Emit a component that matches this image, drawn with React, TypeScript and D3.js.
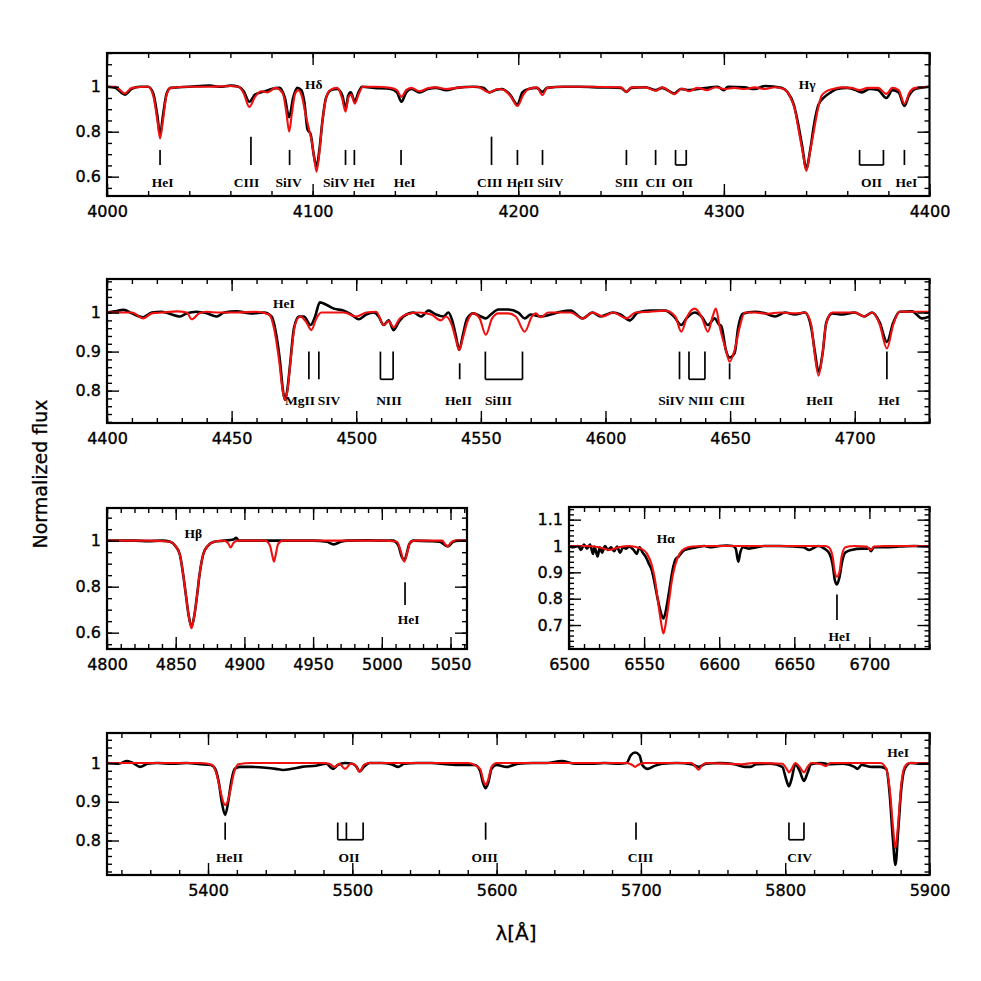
import React, { useEffect, useRef } from 'react';
import * as d3 from 'd3';

type Pt = [number, number];

// ---------- Panel 1 : 4000-4400 ----------
const P1_OBS: Pt[] = [
  [4000, 1.0], [4004, 0.995], [4008.7, 0.965], [4012, 0.99], [4016, 1.0], [4020, 1.0], [4022.5, 0.97], [4024.5, 0.87],
  [4025.8, 0.785], [4027.2, 0.87], [4029, 0.97], [4031, 0.995], [4040, 1.0], [4050, 1.005], [4055, 1.0], [4060, 1.005],
  [4064, 1.0], [4066.5, 0.98], [4069.2, 0.933], [4072, 0.965], [4075, 0.975], [4077, 0.98], [4080, 0.99], [4084, 0.995],
  [4086.5, 0.95], [4088.6, 0.864], [4090.5, 0.95], [4092.5, 0.995], [4094.5, 0.985], [4096, 0.93], [4097.5, 0.81],
  [4099, 0.79], [4100.5, 0.7], [4101.9, 0.644], [4103.3, 0.72], [4104.8, 0.85], [4106.5, 0.95], [4109, 0.985],
  [4112, 0.99], [4114.5, 0.96], [4116, 0.9], [4117.3, 0.96], [4118.5, 0.975], [4120.5, 0.935], [4122.3, 0.975],
  [4124, 1.0], [4130, 0.995], [4138, 0.99], [4141, 0.975], [4143.2, 0.933], [4145.5, 0.975], [4148, 0.99], [4152, 0.975],
  [4156, 0.99], [4160, 0.995], [4165, 0.985], [4170, 0.995], [4178, 1.0], [4183, 0.995], [4186, 0.975], [4189, 0.985],
  [4192, 0.99], [4196, 0.965], [4199.6, 0.92], [4202, 0.975], [4205, 0.99], [4209, 0.995], [4211.8, 0.977], [4214, 0.995],
  [4222, 1.0], [4230, 1.0], [4240, 0.997], [4250, 0.995], [4252.6, 0.977], [4255, 0.995], [4262, 0.998], [4266.8, 0.985],
  [4270, 0.995], [4276, 0.97], [4279, 0.99], [4283, 0.985], [4290, 0.993], [4297, 1.0], [4300, 0.985], [4302, 1.0],
  [4310, 0.997], [4315, 0.99], [4320, 1.003], [4328, 0.995], [4331, 0.975], [4334, 0.92], [4336, 0.84], [4338, 0.74],
  [4340.1, 0.636], [4342, 0.72], [4344, 0.84], [4346, 0.92], [4349, 0.955], [4352, 0.975], [4355, 0.99], [4360, 0.995],
  [4364, 0.985], [4367, 0.975], [4371, 0.99], [4375, 0.985], [4379, 0.95], [4382, 0.985], [4385, 0.975], [4387.8, 0.914],
  [4390, 0.96], [4393, 0.99], [4400, 1.0],
];
const P1_MOD: Pt[] = [
  [4000, 1.0], [4004, 1.0], [4008.7, 0.97], [4012, 0.995], [4020, 1.0], [4022.5, 0.96], [4024.5, 0.85], [4025.8, 0.77],
  [4027.2, 0.85], [4029, 0.965], [4031, 0.995], [4040, 1.0], [4050, 1.0], [4060, 1.003], [4064, 1.0], [4066.5, 0.97],
  [4069.2, 0.91], [4072, 0.955], [4075, 0.98], [4078, 0.975], [4082, 0.995], [4085.5, 0.97], [4087.3, 0.88], [4088.6, 0.8],
  [4089.9, 0.88], [4091.5, 0.97], [4093, 0.985], [4095, 0.95], [4096.5, 0.88], [4098, 0.82], [4099.5, 0.76], [4100.8, 0.68],
  [4101.9, 0.622], [4103.2, 0.7], [4104.7, 0.84], [4106.3, 0.94], [4108.5, 0.985], [4112, 0.995], [4114.3, 0.95],
  [4116, 0.889], [4117.5, 0.955], [4118.7, 0.965], [4120.5, 0.925], [4122.5, 0.97], [4124.5, 1.0], [4130, 1.0],
  [4138, 0.995], [4141, 0.985], [4143.2, 0.955], [4145.5, 0.985], [4148, 0.995], [4152, 0.98], [4156, 0.993],
  [4160, 0.997], [4165, 0.99], [4172, 0.997], [4180, 1.0], [4186, 0.975], [4190, 0.99], [4193, 0.985], [4196.5, 0.955],
  [4199.6, 0.914], [4202.5, 0.965], [4205, 0.99], [4209, 0.997], [4211.8, 0.963], [4214, 0.995], [4222, 1.0], [4235, 1.0],
  [4250, 0.997], [4252.6, 0.977], [4255, 0.997], [4262, 0.997], [4266.8, 0.982], [4270, 0.997], [4276, 0.967],
  [4279.5, 0.992], [4283, 0.98], [4287, 0.995], [4292, 0.985], [4296, 0.998], [4300, 0.99], [4305, 0.995], [4310, 0.99],
  [4315, 0.997], [4320, 0.99], [4325, 0.998], [4329, 0.99], [4332, 0.96], [4334.5, 0.9], [4336.5, 0.8], [4338.5, 0.7],
  [4340.1, 0.625], [4341.7, 0.7], [4343.7, 0.8], [4345.7, 0.9], [4347.5, 0.96], [4350, 0.98], [4353, 0.99], [4357, 0.997],
  [4362, 0.995], [4366, 0.985], [4370, 0.995], [4375, 0.995], [4379, 0.968], [4382, 0.995], [4385, 0.985],
  [4387.8, 0.924], [4390.3, 0.975], [4393, 0.995], [4400, 1.0],
];

// ---------- Panel 2 : 4400-4730 ----------
const P2_OBS: Pt[] = [
  [4400, 1.0], [4403, 1.003], [4406.7, 1.007], [4410, 0.998], [4414.5, 0.988], [4418, 1.0], [4422, 1.002], [4426, 0.995],
  [4429, 0.99], [4432, 0.998], [4436, 1.002], [4440, 0.998], [4444, 0.99], [4447, 1.0], [4452, 1.003], [4458, 0.998],
  [4463, 1.0], [4466, 0.99], [4468, 0.94], [4469.5, 0.87], [4470.6, 0.8], [4471.4, 0.776], [4472.3, 0.8], [4473.5, 0.87],
  [4475, 0.96], [4477, 0.99], [4479, 0.99], [4481.7, 0.968], [4483.5, 0.99], [4485.4, 1.026], [4488, 1.02], [4491, 1.01],
  [4495, 1.005], [4498, 0.995], [4501, 0.983], [4504, 0.995], [4507, 1.0], [4509, 0.99], [4511, 0.968], [4513, 0.98],
  [4515, 0.955], [4517, 0.975], [4519, 0.99], [4523, 1.0], [4526, 0.99], [4529, 1.005], [4532, 0.995], [4535, 0.99],
  [4537, 1.0], [4538.5, 0.98], [4540, 0.94], [4541.3, 0.904], [4542.7, 0.94], [4544.5, 0.985], [4547, 0.998],
  [4550, 0.99], [4552, 0.985], [4554, 0.995], [4557, 1.008], [4561, 1.008], [4565, 1.0], [4567.6, 0.985], [4570, 0.995],
  [4574, 0.99], [4578, 0.995], [4582, 1.002], [4586, 1.005], [4590.8, 0.985], [4594.8, 1.0], [4598, 0.99], [4603, 1.0],
  [4606, 0.995], [4609.7, 0.98], [4613, 1.0], [4618, 1.005], [4624, 1.005], [4627.5, 0.99], [4630.4, 0.968],
  [4632.5, 0.985], [4635.8, 1.0], [4638.5, 0.99], [4641.1, 0.968], [4643.8, 0.985], [4645.5, 0.97], [4646.5, 0.965],
  [4648.3, 0.904], [4649.8, 0.885], [4651.8, 0.896], [4653.2, 0.96], [4655, 0.997], [4660, 1.002], [4664, 0.998],
  [4668, 0.99], [4672, 1.0], [4676, 0.995], [4680, 1.0], [4682.6, 0.96], [4684, 0.9], [4685.5, 0.849], [4687.2, 0.9],
  [4688.6, 0.975], [4691, 0.998], [4695, 0.995], [4700, 1.0], [4703.8, 0.99], [4707, 1.0], [4710, 0.975],
  [4712.9, 0.925], [4715.5, 0.975], [4718, 1.002], [4723, 1.003], [4727, 0.985], [4730, 0.99],
];
const P2_MOD: Pt[] = [
  [4400, 1.0], [4405, 1.0], [4410, 1.0], [4414.5, 0.985], [4418, 0.998], [4422, 1.0], [4428, 1.003], [4432, 1.0],
  [4434, 0.983], [4437, 0.998], [4440, 1.002], [4445, 1.0], [4452, 1.0], [4460, 1.002], [4465, 0.995], [4467, 0.96],
  [4469, 0.88], [4470.5, 0.8], [4471.4, 0.776], [4472.4, 0.8], [4473.7, 0.88], [4475.5, 0.97], [4477.5, 0.99],
  [4480, 0.975], [4482, 0.955], [4484, 0.985], [4486, 1.0], [4490, 1.0], [4495, 1.0], [4500, 0.99], [4504, 1.0],
  [4508, 1.002], [4511, 0.968], [4513, 0.978], [4515, 0.962], [4517.5, 0.985], [4520, 0.995], [4525, 1.0], [4530, 0.995],
  [4534, 0.98], [4536, 0.99], [4538.5, 0.965], [4540, 0.93], [4541.3, 0.904], [4542.8, 0.935], [4544.5, 0.975],
  [4547, 0.998], [4549.5, 0.985], [4552, 0.943], [4554.5, 0.985], [4557, 0.998], [4561, 0.998], [4564, 0.99],
  [4567.6, 0.951], [4570.5, 0.99], [4572, 0.998], [4574, 0.988], [4577, 1.0], [4582, 1.0], [4586, 1.0], [4590.8, 0.985],
  [4594.8, 1.0], [4599, 0.99], [4603, 1.0], [4608.4, 0.985], [4612, 1.0], [4618, 1.002], [4624, 1.005], [4628, 0.99],
  [4630.4, 0.951], [4632.8, 0.99], [4635.8, 1.01], [4638.5, 0.99], [4641.1, 0.951], [4643, 0.99], [4644.3, 1.01],
  [4645.8, 0.964], [4648.3, 0.904], [4649.8, 0.874], [4651.8, 0.904], [4653.9, 0.964], [4655.9, 1.0], [4660, 1.0],
  [4665, 0.997], [4670, 1.0], [4676, 0.998], [4680, 1.0], [4682.5, 0.97], [4684, 0.89], [4685.5, 0.838], [4687, 0.89],
  [4688.5, 0.97], [4691, 1.0], [4696, 1.0], [4700, 1.0], [4703.8, 0.99], [4707, 1.0], [4710, 0.97], [4712.9, 0.908],
  [4715.5, 0.97], [4718, 1.002], [4730, 1.002],
];

// ---------- Panel 3 : 4800-5060 ----------
const P3_OBS: Pt[] = [
  [4800, 1.0], [4820, 1.0], [4830, 0.998], [4840, 1.0], [4846, 0.995], [4850, 0.975], [4853, 0.94], [4855.5, 0.85],
  [4857.5, 0.76], [4859.3, 0.68], [4861.5, 0.625], [4863.7, 0.68], [4865.5, 0.76], [4867.3, 0.85], [4870, 0.94],
  [4873, 0.975], [4878, 0.995], [4885, 1.0], [4892, 1.005], [4894, 1.012], [4896, 1.0], [4905, 1.0], [4915, 1.0],
  [4930, 1.0], [4950, 1.0], [4960, 0.995], [4965, 0.984], [4970, 0.995], [4975, 1.0], [4990, 1.002], [5000, 1.0],
  [5008, 1.0], [5012, 0.98], [5014.5, 0.93], [5016.4, 0.915], [5018, 0.94], [5020, 0.985], [5023, 1.0], [5035, 0.998],
  [5042, 0.995], [5048, 0.975], [5052, 0.995], [5056, 1.0], [5062, 1.0],
];
const P3_MOD: Pt[] = [
  [4800, 1.0], [4830, 1.0], [4846, 0.995], [4850, 0.975], [4853, 0.94], [4855.5, 0.85], [4857.5, 0.76], [4859.3, 0.68],
  [4861.5, 0.619], [4863.7, 0.68], [4865.5, 0.76], [4867.3, 0.85], [4870, 0.94], [4873, 0.975], [4878, 0.995],
  [4885, 1.0], [4888, 0.99], [4890, 0.97], [4892, 0.99], [4895, 1.0], [4915, 1.0], [4918.5, 0.98], [4920.5, 0.93],
  [4921.5, 0.909], [4922.5, 0.93], [4924.5, 0.985], [4928, 1.0], [4960, 1.0], [5000, 1.0], [5011, 0.995],
  [5013.5, 0.96], [5016.4, 0.909], [5018.5, 0.95], [5021, 0.995], [5025, 1.0], [5044, 1.0], [5046, 0.985],
  [5048, 0.975], [5050, 0.99], [5053, 1.0], [5062, 1.0],
];

// ---------- Panel 4 : 6500-6740 ----------
const P4_OBS: Pt[] = [
  [6500, 1.0], [6503, 0.995], [6506, 1.0], [6508, 0.985], [6510, 1.005], [6512, 0.99], [6514, 1.005], [6516, 0.97],
  [6517, 0.998], [6519, 0.96], [6520.5, 0.995], [6522, 0.975], [6524, 1.0], [6526, 0.985], [6528, 0.995], [6530, 0.98],
  [6532, 0.998], [6534, 0.975], [6536, 0.995], [6538, 0.99], [6540, 0.998], [6543, 0.985], [6545, 0.97], [6547, 0.995],
  [6549, 0.975], [6551, 0.96], [6553, 0.935], [6555, 0.91], [6557, 0.86], [6559, 0.8], [6561, 0.75], [6562.9, 0.725],
  [6565, 0.77], [6567, 0.84], [6569, 0.91], [6571, 0.95], [6573, 0.96], [6575, 0.975], [6577, 0.985], [6580, 0.99],
  [6585, 0.995], [6590, 1.0], [6595, 0.995], [6600, 1.0], [6605, 1.002], [6609, 1.0], [6611, 0.99], [6612.7, 0.94],
  [6614, 0.975], [6616, 0.995], [6620, 0.99], [6625, 0.995], [6630, 1.0], [6640, 1.0], [6650, 0.998], [6656, 0.995],
  [6660, 0.985], [6662, 0.99], [6666, 1.0], [6670, 0.99], [6673, 0.975], [6675.5, 0.93], [6677, 0.87], [6678.4, 0.854],
  [6680, 0.88], [6682, 0.945], [6684, 0.975], [6688, 0.985], [6695, 0.99], [6700, 0.99], [6701, 0.98], [6703, 0.995],
  [6710, 0.995], [6720, 0.998], [6730, 1.0], [6740, 0.998],
];
const P4_MOD: Pt[] = [
  [6500, 1.0], [6510, 1.0], [6520, 0.995], [6527, 0.985], [6533, 0.995], [6540, 1.0], [6548, 0.99], [6552, 0.97],
  [6555, 0.93], [6557, 0.88], [6559, 0.8], [6561, 0.72], [6562.9, 0.668], [6564.8, 0.72], [6566.8, 0.8], [6568.8, 0.88],
  [6570.8, 0.93], [6573.5, 0.97], [6577, 0.99], [6582, 0.998], [6590, 1.0], [6620, 1.0], [6650, 1.0], [6670, 1.0],
  [6673, 0.995], [6675.5, 0.96], [6677, 0.9], [6678.4, 0.883], [6680, 0.9], [6681.5, 0.96], [6684, 0.995], [6690, 1.0],
  [6698, 0.998], [6700.9, 0.985], [6703, 0.998], [6710, 1.0], [6740, 1.0],
];

// ---------- Panel 5 : 5330-5900 ----------
const P5_OBS: Pt[] = [
  [5330, 1.0], [5338, 0.998], [5344, 1.005], [5348, 1.0], [5353, 0.99], [5358, 0.998], [5365, 1.0], [5375, 0.998],
  [5385, 1.0], [5395, 0.997], [5402, 0.995], [5405, 0.985], [5407.5, 0.95], [5409.5, 0.9], [5411.9, 0.866], [5414, 0.9],
  [5416, 0.95], [5418.5, 0.985], [5422, 0.99], [5430, 0.99], [5440, 0.988], [5447, 0.985], [5452, 0.982], [5458, 0.985],
  [5465, 0.99], [5475, 0.993], [5482, 0.998], [5486.6, 0.985], [5490, 0.995], [5495, 1.0], [5500, 0.998], [5503, 0.99],
  [5505, 0.978], [5508, 0.99], [5512, 1.0], [5520, 1.0], [5527, 0.997], [5532, 0.99], [5536, 0.998], [5545, 1.0],
  [5555, 1.0], [5565, 0.997], [5575, 0.995], [5585, 0.995], [5588.5, 0.98], [5590.5, 0.95], [5592.4, 0.935],
  [5594.3, 0.95], [5596.5, 0.985], [5600, 0.995], [5607, 0.99], [5615, 0.998], [5625, 1.0], [5635, 1.0], [5645, 1.005],
  [5655, 0.998], [5665, 0.998], [5675, 1.0], [5685, 0.998], [5690, 1.0], [5693, 1.02], [5696, 1.027], [5699, 1.02],
  [5701, 0.995], [5704.7, 0.985], [5709, 0.992], [5715, 0.998], [5725, 1.0], [5735, 0.997], [5740, 0.99], [5745, 0.998],
  [5755, 1.0], [5765, 0.997], [5772, 0.99], [5776, 0.99], [5780, 0.997], [5790, 0.998], [5798, 0.99], [5800.5, 0.96],
  [5802.6, 0.94], [5804.5, 0.96], [5807, 0.997], [5810, 0.98], [5813, 0.954], [5815.5, 0.975], [5818, 0.997],
  [5825, 1.0], [5830, 0.997], [5840, 0.998], [5848, 0.99], [5850, 0.985], [5853, 0.995], [5860, 0.99], [5866, 0.99],
  [5870, 0.985], [5872.4, 0.92], [5874.5, 0.81], [5876.4, 0.737], [5878.2, 0.82], [5880.5, 0.935], [5882.8, 0.985],
  [5887, 1.0], [5895, 0.998], [5900, 0.998],
];
const P5_MOD: Pt[] = [
  [5330, 1.0], [5360, 1.0], [5395, 1.0], [5403, 0.995], [5406, 0.97], [5408.5, 0.93], [5410.5, 0.9], [5411.9, 0.892],
  [5413.5, 0.9], [5415.5, 0.93], [5418, 0.975], [5421, 0.997], [5430, 1.0], [5480, 1.0], [5484, 0.998], [5488, 0.99],
  [5491, 0.998], [5495, 0.985], [5499, 0.998], [5502, 0.995], [5505, 0.978], [5508, 0.995], [5512, 1.0], [5540, 1.0],
  [5580, 1.0], [5588.5, 0.985], [5590.8, 0.955], [5592.4, 0.944], [5594, 0.955], [5596.5, 0.99], [5600, 1.0],
  [5690, 1.0], [5694, 0.995], [5696, 0.99], [5698, 0.995], [5702, 1.0], [5735, 1.0], [5738, 0.99], [5740, 0.983],
  [5742.5, 0.995], [5746, 1.0], [5770, 0.997], [5778, 1.0], [5798, 0.998], [5801, 0.985], [5802.6, 0.976],
  [5804.5, 0.985], [5807, 1.0], [5810, 0.99], [5813, 0.976], [5815.5, 0.99], [5818, 1.0], [5825, 0.997], [5828, 0.992],
  [5831, 1.0], [5866, 1.0], [5870, 0.985], [5872.5, 0.93], [5874.6, 0.84], [5876.4, 0.78], [5878.2, 0.84],
  [5880.3, 0.94], [5882.8, 0.99], [5886, 1.0], [5900, 1.0],
];

// ---------- line identifications ----------
type Marker = { label: string; lines: number[]; at: number; kind?: 'long' | 'short' };
const P1_MARKERS: Marker[] = [
  { label: 'HeI', lines: [4025.8], at: 4027 },
  { label: 'CIII', lines: [4070], at: 4067.9, kind: 'long' },
  { label: 'SiIV', lines: [4088.8], at: 4088.3 },
  { label: 'SiIV', lines: [4116], at: 4111.4 },
  { label: 'HeI', lines: [4120.3], at: 4125.1 },
  { label: 'HeI', lines: [4143], at: 4144.8 },
  { label: 'CIII', lines: [4187], at: 4186.1, kind: 'long' },
  { label: 'HeII', lines: [4199.6], at: 4201 },
  { label: 'SiIV', lines: [4211.8], at: 4215.6 },
  { label: 'SIII', lines: [4252.6], at: 4252.7 },
  { label: 'CII', lines: [4266.8], at: 4266.8 },
  { label: 'OII', lines: [4276.5, 4281.7], at: 4279.9 },
  { label: 'OII', lines: [4366, 4377.6], at: 4371.8 },
  { label: 'HeI', lines: [4387.8], at: 4388.8 },
];
const P2_MARKERS: Marker[] = [
  { label: 'MgII', lines: [4481], at: 4477.4 },
  { label: 'SIV', lines: [4485], at: 4489.1 },
  { label: 'NIII', lines: [4509.7, 4514.8], at: 4513.1 },
  { label: 'HeII', lines: [4541.5], at: 4541, kind: 'short' },
  { label: 'SiIII', lines: [4551.8, 4566.7], at: 4557.1 },
  { label: 'SiIV', lines: [4629.7], at: 4626.4 },
  { label: 'NIII', lines: [4633.5, 4639.9], at: 4638.3 },
  { label: 'CIII', lines: [4649.8], at: 4650.9, kind: 'short' },
  { label: 'HeII', lines: [], at: 4686 },
  { label: 'HeI', lines: [4712.9], at: 4713.8 },
];
const P3_MARKERS: Marker[] = [{ label: 'HeI', lines: [5016.9], at: 5019.6 }];
const P4_MARKERS: Marker[] = [{ label: 'HeI', lines: [6678.4], at: 6680 }];
const P5_MARKERS: Marker[] = [
  { label: 'HeII', lines: [5411.9], at: 5414.9 },
  { label: 'OII', lines: [5489.9, 5495.9, 5507.5], at: 5497.8 },
  { label: 'OIII', lines: [5592.4], at: 5591.7 },
  { label: 'CIII', lines: [5696.6], at: 5699.8 },
  { label: 'CIV', lines: [5802.6, 5813], at: 5810 },
];

type TopLabel = { text: string; at: number; flux: number };
const P1_TOP: TopLabel[] = [{ text: 'Hδ', at: 4100.5, flux: 1.01 }, { text: 'Hγ', at: 4340.5, flux: 1.014 }];
const P2_TOP: TopLabel[] = [{ text: 'HeI', at: 4471, flux: 1.024 }];
const P3_TOP: TopLabel[] = [{ text: 'Hβ', at: 4862.8, flux: 1.033 }];
const P4_TOP: TopLabel[] = [{ text: 'Hα', at: 6564.4, flux: 1.032 }];
const P5_TOP: TopLabel[] = [{ text: 'HeI', at: 5878.3, flux: 1.028 }];

const P1_XMAJOR = [4000, 4100, 4200, 4300, 4400];
const P2_XMAJOR = [4400, 4450, 4500, 4550, 4600, 4650, 4700];
const P3_XMAJOR = [4800, 4850, 4900, 4950, 5000, 5050];
const P4_XMAJOR = [6500, 6550, 6600, 6650, 6700];
const P5_XMAJOR = [5400, 5500, 5600, 5700, 5800, 5900];
const P1_YMAJOR = [0.6, 0.8, 1];
const P2_YMAJOR = [0.8, 0.9, 1];
const P3_YMAJOR = [0.6, 0.8, 1];
const P4_YMAJOR = [0.7, 0.8, 0.9, 1, 1.1];
const P5_YMAJOR = [0.8, 0.9, 1];

type Panel = {
  obs: Pt[]; mod: Pt[]; markers: Marker[]; top: TopLabel[];
  xd: [number, number]; yd: [number, number];
  box: [number, number, number, number];
  xMajor: number[]; xMinorStep: number; yMajor: number[]; yMinorStep: number;
  tickTop: number; tickBot: number; longTop: number; labelF: number;
};

const PANELS: Panel[] = [
  { obs: P1_OBS, mod: P1_MOD, markers: P1_MARKERS, top: P1_TOP, xd: [4000, 4400], yd: [0.514, 1.15],
    box: [107, 53, 929.5, 196], xMajor: P1_XMAJOR, xMinorStep: 20, yMajor: P1_YMAJOR, yMinorStep: 0.05,
    tickTop: 0.719, tickBot: 0.652, longTop: 0.778, labelF: 0.578 },
  { obs: P2_OBS, mod: P2_MOD, markers: P2_MARKERS, top: P2_TOP, xd: [4400, 4730], yd: [0.717, 1.086],
    box: [107, 279, 929.5, 423], xMajor: P2_XMAJOR, xMinorStep: 10, yMajor: P2_YMAJOR, yMinorStep: 0.02,
    tickTop: 0.9, tickBot: 0.829, longTop: 0.87, labelF: 0.777 },
  { obs: P3_OBS, mod: P3_MOD, markers: P3_MARKERS, top: P3_TOP, xd: [4800, 5062], yd: [0.529, 1.142],
    box: [107, 508, 467, 649], xMajor: P3_XMAJOR, xMinorStep: 10, yMajor: P3_YMAJOR, yMinorStep: 0.05,
    tickTop: 0.819, tickBot: 0.72, longTop: 0.819, labelF: 0.66 },
  { obs: P4_OBS, mod: P4_MOD, markers: P4_MARKERS, top: P4_TOP, xd: [6500, 6740], yd: [0.609, 1.148],
    box: [569, 507, 929.5, 649], xMajor: P4_XMAJOR, xMinorStep: 10, yMajor: P4_YMAJOR, yMinorStep: 0.02,
    tickTop: 0.816, tickBot: 0.719, longTop: 0.816, labelF: 0.658 },
  { obs: P5_OBS, mod: P5_MOD, markers: P5_MARKERS, top: P5_TOP, xd: [5330, 5900], yd: [0.711, 1.0775],
    box: [107, 733, 929.5, 875], xMajor: P5_XMAJOR, xMinorStep: 20, yMajor: P5_YMAJOR, yMinorStep: 0.02,
    tickTop: 0.8465, tickBot: 0.802, longTop: 0.8465, labelF: 0.757 },
];

const TICK_FONT = "'DejaVu Sans', sans-serif";
const ID_FONT = "'Liberation Serif', 'DejaVu Serif', serif";

function minorTicks(d: [number, number], step: number): number[] {
  const out: number[] = [];
  const start = Math.ceil(d[0] / step - 1e-9);
  const end = Math.floor(d[1] / step + 1e-9);
  for (let k = start; k <= end; k++) out.push(+(k * step).toFixed(4));
  return out;
}

function drawPanel(svg: d3.Selection<SVGSVGElement, unknown, null, undefined>, p: Panel, i: number) {
  const [x0, y0, x1, y1] = p.box;
  const x = d3.scaleLinear().domain(p.xd).range([x0, x1]);
  const y = d3.scaleLinear().domain(p.yd).range([y1, y0]);
  const g = svg.append('g');
  const clipId = `clip-${i}`;
  g.append('clipPath').attr('id', clipId).append('rect')
    .attr('x', x0).attr('y', y0).attr('width', x1 - x0).attr('height', y1 - y0);

  const line = d3.line<Pt>().x(d => x(d[0])).y(d => y(d[1])).curve(d3.curveMonotoneX);
  g.append('path').attr('d', line(p.obs) as string).attr('fill', 'none').attr('stroke', '#000')
    .attr('stroke-width', 2.6).attr('stroke-linejoin', 'round').attr('clip-path', `url(#${clipId})`);
  g.append('path').attr('d', line(p.mod) as string).attr('fill', 'none').attr('stroke', '#f01010')
    .attr('stroke-width', 2.1).attr('stroke-linejoin', 'round').attr('clip-path', `url(#${clipId})`);

  // axes (inward ticks on all four sides)
  const fmtX = (d: d3.NumberValue) => String(d);
  const fmtY = (d: d3.NumberValue) => String(+(+d).toFixed(2));
  const xMinor = minorTicks(p.xd, p.xMinorStep);
  const yMinor = minorTicks(p.yd, p.yMinorStep);
  const MAJ = 12, MIN = 5;
  const style = (sel: d3.Selection<SVGGElement, unknown, null, undefined>) => {
    sel.select('.domain').remove();
    sel.attr('font-family', TICK_FONT).attr('font-size', 16).attr('color', '#000');
    sel.selectAll('text').attr('stroke', '#000').attr('stroke-width', 0.35);
    sel.selectAll('line').attr('stroke-width', 1.4);
  };
  g.append('g').attr('transform', `translate(0,${y1})`)
    .call(d3.axisBottom(x).tickValues(xMinor).tickSize(-MIN).tickFormat(() => '')).call(style);
  g.append('g').attr('transform', `translate(0,${y1})`)
    .call(d3.axisBottom(x).tickValues(p.xMajor).tickSize(-MAJ).tickPadding(10).tickFormat(fmtX)).call(style);
  g.append('g').attr('transform', `translate(0,${y0})`)
    .call(d3.axisTop(x).tickValues(xMinor).tickSize(-MIN).tickFormat(() => '')).call(style);
  g.append('g').attr('transform', `translate(0,${y0})`)
    .call(d3.axisTop(x).tickValues(p.xMajor).tickSize(-MAJ).tickFormat(() => '')).call(style);
  g.append('g').attr('transform', `translate(${x0},0)`)
    .call(d3.axisLeft(y).tickValues(yMinor).tickSize(-MIN).tickFormat(() => '')).call(style);
  g.append('g').attr('transform', `translate(${x0},0)`)
    .call(d3.axisLeft(y).tickValues(p.yMajor).tickSize(-MAJ).tickPadding(6).tickFormat(fmtY)).call(style);
  g.append('g').attr('transform', `translate(${x1},0)`)
    .call(d3.axisRight(y).tickValues(yMinor).tickSize(-MIN).tickFormat(() => '')).call(style);
  g.append('g').attr('transform', `translate(${x1},0)`)
    .call(d3.axisRight(y).tickValues(p.yMajor).tickSize(-MAJ).tickFormat(() => '')).call(style);

  g.append('rect').attr('x', x0).attr('y', y0).attr('width', x1 - x0).attr('height', y1 - y0)
    .attr('fill', 'none').attr('stroke', '#000').attr('stroke-width', 2.2);

  // line identifications
  const mk = g.append('g').attr('stroke', '#000').attr('stroke-width', 1.7).attr('fill', 'none');
  p.markers.forEach(m => {
    if (m.lines.length === 1) {
      const top = m.kind === 'long' || m.kind === 'short' ? p.longTop : p.tickTop;
      mk.append('line').attr('x1', x(m.lines[0])).attr('x2', x(m.lines[0]))
        .attr('y1', y(top)).attr('y2', y(p.tickBot));
    } else if (m.lines.length > 1) {
      m.lines.forEach(l => {
        mk.append('line').attr('x1', x(l)).attr('x2', x(l)).attr('y1', y(p.tickTop)).attr('y2', y(p.tickBot));
      });
      const lo = d3.min(m.lines) as number, hi = d3.max(m.lines) as number;
      mk.append('line').attr('x1', x(lo)).attr('x2', x(hi)).attr('y1', y(p.tickBot)).attr('y2', y(p.tickBot));
    }
    g.append('text').attr('x', x(m.at)).attr('y', y(p.labelF) + 5).attr('text-anchor', 'middle')
      .attr('font-family', ID_FONT).attr('font-weight', 'bold').attr('font-size', 13.5).text(m.label);
  });
  p.top.forEach(t => {
    g.append('text').attr('x', x(t.at)).attr('y', y(t.flux) + 5).attr('text-anchor', 'middle')
      .attr('font-family', ID_FONT).attr('font-weight', 'bold').attr('font-size', 13.5).text(t.text);
  });
}

export default function App() {
  const ref = useRef<SVGSVGElement>(null);
  useEffect(() => {
    if (!ref.current) return;
    const svg = d3.select(ref.current);
    svg.selectAll('*').remove();
    svg.append('rect').attr('width', 981).attr('height', 981).attr('fill', '#fff');
    PANELS.forEach((p, i) => drawPanel(svg, p, i));
    svg.append('text').attr('transform', 'translate(47,474) rotate(-90)').attr('text-anchor', 'middle')
      .attr('font-family', TICK_FONT).attr('font-size', 19).attr('stroke', '#000').attr('stroke-width', 0.3)
      .text('Normalized flux');
    svg.append('text').attr('x', 516).attr('y', 940).attr('text-anchor', 'middle')
      .attr('font-family', TICK_FONT).attr('font-size', 20).attr('stroke', '#000').attr('stroke-width', 0.3)
      .text('λ[Å]');
  }, []);
  return (
    <svg ref={ref} width={981} height={981}
      style={{ position: 'absolute', left: 0, top: 0, display: 'block' }} />
  );
}
